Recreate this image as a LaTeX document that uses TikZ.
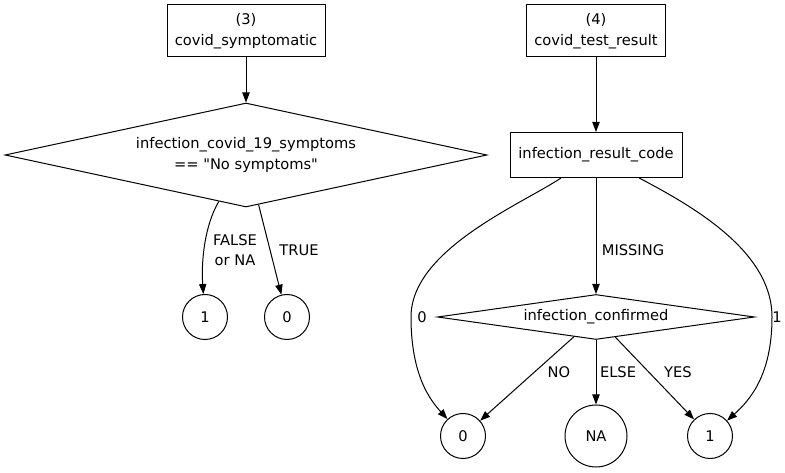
\documentclass[tikz,border=0pt]{standalone}
\usepackage{fontspec}
\setmainfont{DejaVu Sans}[Ligatures=TeXOff]
\usetikzlibrary{shapes.geometric}
\usetikzlibrary{arrows.meta}

\begin{document}
\begin{tikzpicture}[x=0.75pt, y=-0.75pt, font=\fontsize{11}{15.5}\selectfont,
            box/.style={draw, line width=0.75pt, align=center, inner sep=0pt},
            test/.style={draw, diamond, line width=0.75pt, align=center, inner sep=0pt},
            leaf/.style={draw, circle, line width=0.75pt, inner sep=0pt, minimum size=33.75pt},
            lbl/.style={inner sep=0pt, align=center},
            edge/.style={line width=0.75pt, -{Triangle[length=7.5pt, width=5.5pt]}}]
\useasboundingbox (0,0) rectangle (785,473);
\node[box, minimum width=118.5pt, minimum height=39pt] (symp) at (246,31) {(3)\\covid\_symptomatic};
\node[test, aspect=4.6, minimum width=361.5pt, minimum height=78pt] (symptest) at (246,155) {infection\_covid\_19\_symptoms\\== "No symptoms"};
\node[leaf] (sympone) at (205,317) {1};
\node[leaf] (sympzero) at (287,317) {0};
\node[box, minimum width=104.25pt, minimum height=39pt] (result) at (596,31) {(4)\\covid\_test\_result};
\node[box, minimum width=129pt, minimum height=33.75pt] (code) at (596,155) {infection\_result\_code};
\node[test, aspect=7, minimum width=237.75pt, minimum height=33.75pt] (confirmed) at (596,317) {infection\_confirmed};
\node[leaf] (reszero) at (463,436) {0};
\node[leaf, minimum size=46.5pt] (resna) at (596,436) {NA};
\node[leaf] (resone) at (710,436) {1};
\draw[edge] (symp) -- (symptest);
\draw[edge] (symptest) .. controls (205,225) and (201,260) .. (sympone);
\draw[edge] (symptest) -- (sympzero);
\draw[edge] (result) -- (code);
\draw[edge] (code) -- (confirmed);
\draw[edge] (code) .. controls (520,205) and (411,250) .. (411,317) .. controls (411,375) and (430,400) .. (reszero);
\draw[edge] (code) .. controls (690,205) and (772,250) .. (772,317) .. controls (772,375) and (750,400) .. (resone);
\draw[edge] (confirmed) -- (reszero);
\draw[edge] (confirmed) -- (resna);
\draw[edge] (confirmed) -- (resone);
\node[lbl] (lfalse) at (235,250) {FALSE\\or NA};
\node[lbl] (ltrue) at (299,250) {TRUE};
\node[lbl] (lmissing) at (633,250) {MISSING};
\node[lbl] (lzero) at (422,317) {0};
\node[lbl] (lone) at (777,317) {1};
\node[lbl] (lno) at (559,372) {NO};
\node[lbl] (lelse) at (618,372) {ELSE};
\node[lbl] (lyes) at (678,372) {YES};
\end{tikzpicture}
\end{document}
